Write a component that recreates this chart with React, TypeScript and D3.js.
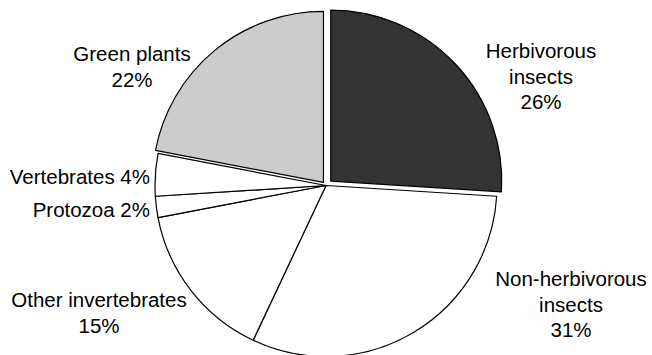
import React from "react";
import * as d3 from "d3";

const categories = ["Herbivorous insects", "Non-herbivorous insects", "Other invertebrates", "Protozoa", "Vertebrates", "Green plants"];
const values = [26, 31, 15, 2, 4, 22];
const fills = ["#333333", "#ffffff", "#ffffff", "#ffffff", "#ffffff", "#cccccc"];
const explode = [6.5, 0, 0, 0, 0, 4];

type Lbl = { lines: string[]; x: number; y: number; anchor: string };
const labels: Lbl[] = [
  { lines: ["Herbivorous", "insects", "26%"], x: 541, y: 58, anchor: "middle" },
  { lines: ["Non-herbivorous", "insects", "31%"], x: 571, y: 286, anchor: "middle" },
  { lines: ["Other invertebrates", "15%"], x: 99, y: 307, anchor: "middle" },
  { lines: ["Protozoa 2%"], x: 150, y: 217, anchor: "end" },
  { lines: ["Vertebrates 4%"], x: 150, y: 184, anchor: "end" },
  { lines: ["Green plants", "22%"], x: 132, y: 61, anchor: "middle" },
];

export default function App() {
  const W = 652, H = 355;
  const cx = 326, cy = 185.5, r = 171;
  const pie = d3.pie<number>().sort(null).startAngle(0).endAngle(2 * Math.PI);
  const arcs = pie(values);
  const arc = d3.arc<d3.PieArcDatum<number>>().innerRadius(0).outerRadius(r);
  return (
    <svg width={W} height={H} style={{ position: "absolute", left: 0, top: 0 }}>
      <rect width={W} height={H} fill="#fff" />
      <g transform={`translate(${cx},${cy})`}>
        {arcs.map((a, i) => {
          const mid = (a.startAngle + a.endAngle) / 2;
          const dx = Math.sin(mid) * explode[i];
          const dy = -Math.cos(mid) * explode[i];
          return (
            <path key={i} d={arc(a) || ""} transform={`translate(${dx},${dy})`} fill={fills[i]} stroke="#000" strokeWidth={1.2} strokeLinejoin="round" />
          );
        })}
      </g>
      {labels.map((l, i) => (
        <text key={i} x={l.x} y={l.y} textAnchor={l.anchor} fontFamily="'Liberation Sans', Arial, sans-serif" fontSize={20.5} fill="#000">
          {l.lines.map((ln, j) => (
            <tspan key={j} x={l.x} dy={j === 0 ? 0 : 25.5}>{ln}</tspan>
          ))}
        </text>
      ))}
    </svg>
  );
}
